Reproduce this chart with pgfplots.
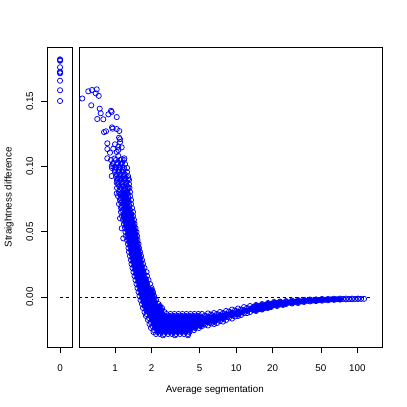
\documentclass[border=0pt]{standalone}
\usepackage{fontspec}
\setmainfont{Liberation Sans}
\usepackage{pgfplots}
\pgfplotsset{compat=1.18}

\pgfplotsset{
  panel/.style={
    scale only axis, anchor=south west, height=300bp,
    ymin=-0.0385, ymax=0.1912,
    axis line style={line width=0.8bp},
    tick style={line width=0.8bp, black},
    tick align=outside, major tick length=6bp,
    xtick pos=left, ytick pos=left,
    xminorticks=false, yminorticks=false,
    ticklabel style={font=\fontsize{9.8bp}{11bp}\selectfont, inner sep=0pt},
    xticklabel shift=11.5bp, yticklabel shift=8bp,
  },
  pts/.style={only marks, mark=o, mark size=2.6bp, blue, line width=0.75bp},
  core/.style={only marks, mark=*, mark size=2bp, blue, mark options={draw=none, fill=blue}},
  zero/.style={black, line width=0.75bp, dash pattern=on 3bp off 3bp},
}

\begin{document}
\begin{tikzpicture}
\path[use as bounding box] (0,0) rectangle (407bp,407bp);

% narrow panel: the x = 0 group
\begin{axis}[panel, at={(47.4bp,59.7bp)}, width=25.3bp,
  xmin=-1, xmax=1, xtick={0}, xticklabels={0},
  ytick={0,0.05,0.1,0.15}, yticklabels={0.00,0.05,0.10,0.15},
  yticklabel style={rotate=90, anchor=south},
]
\addplot[zero, forget plot] coordinates {(0,0) (1,0)};
\addplot[pts] coordinates {
(0,0.1820)(0,0.1809)(0,0.1814)(0,0.1759)(0,0.1725)(0,0.1713)(0,0.1719)
(0,0.1656)(0,0.1583)(0,0.1501)
};
\end{axis}

% main panel, log x
\begin{axis}[panel, at={(79.3bp,59.7bp)}, width=303bp,
  xmode=log, xmin=0.5074, xmax=160.5,
  xtick={1,2,5,10,20,50,100}, xticklabels={1,2,5,10,20,50,100},
  ytick=\empty,
]
\addplot[zero, forget plot] coordinates {(0.5074,0) (127,0)};
% points deep inside the crowded part of the cloud
\addplot[core, forget plot] coordinates {
(1.164,0.0804)(1.256,0.0804)(1.142,0.0773)(1.232,0.0773)(1.186,0.0743)(1.280,0.0743)
(1.164,0.0712)(1.256,0.0712)(1.209,0.0681)(1.304,0.0681)(1.209,0.0651)(1.304,0.0651)
(1.186,0.0789)(1.197,0.0758)(1.209,0.0727)(1.220,0.0697)(1.232,0.0666)
(1.232,0.0620)(1.330,0.0620)(1.256,0.0590)(1.355,0.0590)(1.280,0.0559)(1.381,0.0559)
(1.304,0.0528)(1.408,0.0528)(1.317,0.0498)(1.421,0.0498)(1.330,0.0467)(1.435,0.0467)
(1.355,0.0436)(1.462,0.0436)(1.381,0.0406)(1.490,0.0406)(1.394,0.0375)(1.490,0.0375)
(1.408,0.0345)(1.519,0.0345)(1.435,0.0314)(1.548,0.0314)(1.462,0.0283)(1.578,0.0283)
(1.462,0.0253)(1.578,0.0253)(1.490,0.0222)(1.608,0.0222)
(1.519,0.0191)(1.623,0.0191)(1.718,0.0191)(1.563,0.0161)(1.702,0.0161)
(1.578,0.0130)(1.702,0.0130)(1.802,0.0130)(1.608,0.0100)(1.735,0.0100)(1.837,0.0100)
(1.639,0.0069)(1.768,0.0069)(1.872,0.0069)(1.670,0.0038)(1.802,0.0038)(1.926,0.0038)
(1.702,0.0008)(1.837,0.0008)(1.963,0.0008)(1.735,-0.0023)(1.872,-0.0023)(2.020,-0.0023)
(1.802,-0.0054)(1.944,-0.0054)(2.098,-0.0054)
(1.837,-0.0084)(1.982,-0.0084)(2.138,-0.0084)(2.307,-0.0084)
(1.175,0.0635)(1.268,0.0635)(1.368,0.0635)(1.186,0.0605)(1.280,0.0605)(1.381,0.0605)
(1.209,0.0574)(1.304,0.0574)(1.408,0.0574)(1.232,0.0544)(1.330,0.0544)(1.435,0.0544)
(1.256,0.0513)(1.355,0.0513)(1.462,0.0513)(1.273,0.0482)(1.374,0.0482)(1.482,0.0482)
(1.285,0.0452)(1.387,0.0452)(1.496,0.0452)(1.304,0.0421)(1.408,0.0421)(1.519,0.0421)
(1.330,0.0391)(1.435,0.0391)(1.548,0.0391)(1.347,0.0360)(1.454,0.0360)(1.569,0.0360)
(1.368,0.0329)(1.476,0.0329)(1.593,0.0329)(1.387,0.0299)(1.496,0.0299)(1.614,0.0299)
(1.408,0.0268)(1.519,0.0268)(1.639,0.0268)(1.435,0.0237)(1.548,0.0237)(1.670,0.0237)
(1.462,0.0207)(1.578,0.0207)(1.702,0.0207)(1.490,0.0176)(1.608,0.0176)(1.735,0.0176)
(1.519,0.0146)(1.639,0.0146)(1.768,0.0146)(1.548,0.0115)(1.670,0.0115)(1.802,0.0115)
(1.578,0.0084)(1.702,0.0084)(1.837,0.0084)
(1.608,0.0054)(1.735,0.0054)(1.872,0.0054)(2.020,0.0054)
(1.639,0.0023)(1.768,0.0023)(1.908,0.0023)(2.058,0.0023)
(1.670,-0.0008)(1.802,-0.0008)(1.944,-0.0008)(2.098,-0.0008)
(1.709,-0.0038)(1.844,-0.0038)(1.989,-0.0038)(2.146,-0.0038)
(1.751,-0.0069)(1.890,-0.0069)(2.039,-0.0069)(2.200,-0.0069)(2.351,-0.0069)
(1.809,-0.0100)(1.933,-0.0100)(2.085,-0.0100)(2.251,-0.0100)(2.428,-0.0100)
(1.890,-0.0115)(2.039,-0.0115)(2.200,-0.0115)(2.373,-0.0115)
(1.963,-0.0130)(2.118,-0.0130)(2.285,-0.0130)(2.466,-0.0130)
(1.944,-0.0145)(2.098,-0.0145)(2.264,-0.0145)(2.442,-0.0145)(2.635,-0.0145)
(2.843,-0.0145)(3.067,-0.0145)(3.309,-0.0145)(3.570,-0.0145)(3.852,-0.0145)(4.156,-0.0145)
(4.484,-0.0145)(4.838,-0.0145)
(2.058,-0.0161)(2.221,-0.0161)(2.396,-0.0161)(2.585,-0.0161)(2.789,-0.0161)
(3.010,-0.0161)(3.247,-0.0161)(3.503,-0.0161)(3.780,-0.0161)(4.078,-0.0161)(4.400,-0.0161)
(4.747,-0.0161)(5.120,-0.0161)
(2.020,-0.0176)(2.179,-0.0176)(2.351,-0.0176)(2.537,-0.0176)(2.737,-0.0176)
(2.953,-0.0176)(3.186,-0.0176)(3.437,-0.0176)(3.708,-0.0176)(4.001,-0.0176)(4.317,-0.0176)
(4.657,-0.0176)(5.025,-0.0176)
(2.126,-0.0191)(2.294,-0.0191)(2.475,-0.0191)(2.670,-0.0191)(2.881,-0.0191)
(3.108,-0.0191)(3.354,-0.0191)(3.619,-0.0191)(3.904,-0.0191)(4.213,-0.0191)(4.545,-0.0191)
(4.904,-0.0191)
(2.078,-0.0207)(2.242,-0.0207)(2.419,-0.0207)(2.610,-0.0207)(2.816,-0.0207)
(3.038,-0.0207)(3.278,-0.0207)(3.537,-0.0207)(3.816,-0.0207)(4.117,-0.0207)(4.442,-0.0207)
(4.793,-0.0207)(5.170,-0.0207)
(2.187,-0.0222)(2.360,-0.0222)(2.546,-0.0222)(2.747,-0.0222)(2.964,-0.0222)
(3.198,-0.0222)(3.450,-0.0222)(3.722,-0.0222)(4.016,-0.0222)(4.333,-0.0222)(4.675,-0.0222)
(5.040,-0.0222)
(2.138,-0.0237)(2.307,-0.0237)(2.489,-0.0237)(2.685,-0.0237)(2.897,-0.0237)
(3.126,-0.0237)(3.372,-0.0237)(3.638,-0.0237)(3.925,-0.0237)(4.235,-0.0237)(4.571,-0.0237)
(2.264,-0.0253)(2.442,-0.0253)(2.635,-0.0253)(2.843,-0.0253)(3.067,-0.0253)
(3.309,-0.0253)(3.570,-0.0253)(3.852,-0.0253)(4.156,-0.0253)
(2.242,-0.0268)(2.419,-0.0268)(2.610,-0.0268)(2.816,-0.0268)(3.038,-0.0268)
(3.278,-0.0268)(3.537,-0.0268)(3.816,-0.0268)
(5.222,-0.0153)(5.222,-0.0176)(5.222,-0.0199)(5.528,-0.0165)(5.528,-0.0188)
(5.853,-0.0149)(5.853,-0.0172)(5.853,-0.0195)(6.197,-0.0157)(6.197,-0.0180)
(6.560,-0.0145)(6.560,-0.0168)(6.560,-0.0191)(6.945,-0.0153)(6.945,-0.0176)
(7.353,-0.0138)(7.353,-0.0161)(7.784,-0.0145)(7.784,-0.0168)
(8.241,-0.0130)(8.241,-0.0153)(8.724,-0.0134)(9.235,-0.0119)(9.235,-0.0142)
(9.775,-0.0126)(10.35,-0.0111)(10.35,-0.0134)(10.96,-0.0119)(11.60,-0.0100)
(12.28,-0.0107)(13.00,-0.0092)
(13.76,-0.0077)(13.76,-0.0100)(14.57,-0.0061)(14.57,-0.0084)(14.57,-0.0107)
(15.42,-0.0069)(15.42,-0.0092)(16.33,-0.0054)(16.33,-0.0077)(16.33,-0.0096)
(17.29,-0.0061)(17.29,-0.0084)(18.30,-0.0046)(18.30,-0.0069)(18.30,-0.0084)
(19.37,-0.0054)(19.37,-0.0077)(20.51,-0.0038)(20.51,-0.0061)(21.71,-0.0046)(21.71,-0.0069)
(22.98,-0.0034)(22.98,-0.0057)(24.33,-0.0046)(24.33,-0.0061)(25.76,-0.0031)(25.76,-0.0054)
(27.27,-0.0042)(28.87,-0.0027)(28.87,-0.0050)(30.56,-0.0038)(32.35,-0.0023)(32.35,-0.0046)
(34.25,-0.0034)(36.26,-0.0021)(36.26,-0.0038)(38.39,-0.0029)(40.64,-0.0019)(40.64,-0.0034)
(43.02,-0.0027)(45.55,-0.0018)(45.55,-0.0031)(48.22,-0.0023)(51.05,-0.0015)(51.05,-0.0028)
(54.04,-0.0021)(57.21,-0.0015)(57.21,-0.0025)(60.57,-0.0018)(64.12,-0.0013)(64.12,-0.0022)
(67.88,-0.0017)(71.86,-0.0012)(71.86,-0.0020)
};
\addplot[pts] coordinates {
(0.537,0.1520)(0.602,0.1575)(0.646,0.1585)(0.706,0.1590)(0.693,0.1560)(0.734,0.1540)
(0.637,0.1468)(0.748,0.1442)(0.762,0.1407)(0.714,0.1363)(0.801,0.1361)(0.927,0.1426)
(0.939,0.1417)(0.881,0.1399)(1.033,0.1378)(0.812,0.1263)(0.843,0.1269)(0.945,0.1299)
(0.957,0.1289)(1.033,0.1286)(1.085,0.1271)(1.100,0.1208)(1.080,0.1220)(0.864,0.1177)
(0.864,0.1133)(0.909,0.1105)(0.968,0.1136)(1.000,0.1169)(1.065,0.1151)(1.136,0.1146)
(1.100,0.1187)(1.065,0.1126)(0.864,0.1062)(0.939,0.1003)(1.065,0.1080)(1.136,0.1054)
(1.193,0.1062)(1.033,0.1110)(0.990,0.1060)(0.939,0.0926)(1.033,0.0875)(1.085,0.0909)
(1.209,0.0909)(1.288,0.0909)(1.170,0.0845)(1.288,0.0840)(1.033,0.0794)(1.136,0.0768)
(1.209,0.0781)(1.100,0.0603)(1.136,0.0526)(1.170,0.0449)
(0.927,0.1049)(1.019,0.1049)(1.100,0.1049)(1.186,0.1049)
(0.963,0.1018)(1.039,0.1018)(1.121,0.1018)(1.209,0.1018)
(0.945,0.0988)(1.019,0.0988)(1.100,0.0988)(1.186,0.0988)(1.256,0.0988)
(1.000,0.0957)(1.079,0.0957)(1.164,0.0957)(1.256,0.0957)
(1.019,0.0926)(1.100,0.0926)(1.186,0.0926)(1.280,0.0926)
(1.039,0.0896)(1.121,0.0896)(1.209,0.0896)(1.304,0.0896)
(1.059,0.0865)(1.142,0.0865)(1.232,0.0865)(1.304,0.0865)
(1.039,0.0835)(1.121,0.0835)(1.209,0.0835)(1.317,0.0835)
(1.079,0.0804)(1.164,0.0804)(1.256,0.0804)(1.330,0.0804)
(1.059,0.0773)(1.142,0.0773)(1.232,0.0773)(1.330,0.0773)
(1.100,0.0743)(1.186,0.0743)(1.280,0.0743)(1.355,0.0743)
(1.079,0.0712)(1.164,0.0712)(1.256,0.0712)(1.355,0.0712)
(1.121,0.0681)(1.209,0.0681)(1.304,0.0681)(1.381,0.0681)
(1.121,0.0651)(1.209,0.0651)(1.304,0.0651)(1.408,0.0651)
(0.963,0.1026)(1.059,0.1026)(1.142,0.1026)
(0.991,0.0995)(1.069,0.0995)(1.153,0.0995)
(1.000,0.0972)(1.079,0.0972)(1.164,0.0972)
(1.029,0.0942)(1.110,0.0942)(1.197,0.0942)
(1.049,0.0911)(1.131,0.0911)(1.220,0.0911)
(1.069,0.0881)(1.153,0.0881)(1.244,0.0881)
(1.079,0.0850)(1.164,0.0850)(1.256,0.0850)
(1.089,0.0819)(1.175,0.0819)(1.268,0.0819)
(1.100,0.0789)(1.186,0.0789)(1.280,0.0789)
(1.110,0.0758)(1.197,0.0758)(1.292,0.0758)
(1.121,0.0727)(1.209,0.0727)(1.304,0.0727)
(1.131,0.0697)(1.220,0.0697)(1.317,0.0697)
(1.142,0.0666)(1.232,0.0666)(1.330,0.0666)
(1.142,0.0620)(1.232,0.0620)(1.330,0.0620)(1.408,0.0620)
(1.164,0.0590)(1.256,0.0590)(1.355,0.0590)(1.435,0.0590)
(1.186,0.0559)(1.280,0.0559)(1.381,0.0559)(1.448,0.0559)
(1.209,0.0528)(1.304,0.0528)(1.408,0.0528)(1.476,0.0528)
(1.220,0.0498)(1.317,0.0498)(1.421,0.0498)(1.504,0.0498)
(1.232,0.0467)(1.330,0.0467)(1.435,0.0467)(1.519,0.0467)
(1.256,0.0436)(1.355,0.0436)(1.462,0.0436)(1.533,0.0436)
(1.280,0.0406)(1.381,0.0406)(1.490,0.0406)(1.563,0.0406)
(1.292,0.0375)(1.394,0.0375)(1.490,0.0375)(1.578,0.0375)
(1.304,0.0345)(1.408,0.0345)(1.519,0.0345)(1.608,0.0345)
(1.330,0.0314)(1.435,0.0314)(1.548,0.0314)(1.639,0.0314)
(1.355,0.0283)(1.462,0.0283)(1.578,0.0283)(1.670,0.0283)
(1.368,0.0253)(1.462,0.0253)(1.578,0.0253)(1.702,0.0253)
(1.394,0.0222)(1.490,0.0222)(1.608,0.0222)(1.751,0.0222)
(1.421,0.0191)(1.519,0.0191)(1.623,0.0191)(1.718,0.0191)(1.820,0.0191)
(1.448,0.0161)(1.563,0.0161)(1.702,0.0161)(1.837,0.0161)
(1.476,0.0130)(1.578,0.0130)(1.702,0.0130)(1.802,0.0130)(1.890,0.0130)
(1.504,0.0100)(1.608,0.0100)(1.735,0.0100)(1.837,0.0100)(1.944,0.0100)
(1.533,0.0069)(1.639,0.0069)(1.768,0.0069)(1.872,0.0069)(2.001,0.0069)
(1.563,0.0038)(1.670,0.0038)(1.802,0.0038)(1.926,0.0038)(2.058,0.0038)
(1.593,0.0008)(1.702,0.0008)(1.837,0.0008)(1.963,0.0008)(2.098,0.0008)
(1.623,-0.0023)(1.735,-0.0023)(1.872,-0.0023)(2.020,-0.0023)(2.179,-0.0023)
(1.670,-0.0054)(1.802,-0.0054)(1.944,-0.0054)(2.098,-0.0054)(2.285,-0.0054)
(1.702,-0.0084)(1.837,-0.0084)(1.982,-0.0084)(2.138,-0.0084)(2.307,-0.0084)(2.442,-0.0084)
(1.175,0.0635)(1.268,0.0635)(1.368,0.0635)
(1.186,0.0605)(1.280,0.0605)(1.381,0.0605)
(1.209,0.0574)(1.304,0.0574)(1.408,0.0574)
(1.232,0.0544)(1.330,0.0544)(1.435,0.0544)
(1.256,0.0513)(1.355,0.0513)(1.462,0.0513)
(1.273,0.0482)(1.374,0.0482)(1.482,0.0482)
(1.285,0.0452)(1.387,0.0452)(1.496,0.0452)
(1.304,0.0421)(1.408,0.0421)(1.519,0.0421)
(1.330,0.0391)(1.435,0.0391)(1.548,0.0391)
(1.347,0.0360)(1.454,0.0360)(1.569,0.0360)
(1.368,0.0329)(1.476,0.0329)(1.593,0.0329)
(1.387,0.0299)(1.496,0.0299)(1.614,0.0299)
(1.408,0.0268)(1.519,0.0268)(1.639,0.0268)
(1.435,0.0237)(1.548,0.0237)(1.670,0.0237)
(1.462,0.0207)(1.578,0.0207)(1.702,0.0207)
(1.490,0.0176)(1.608,0.0176)(1.735,0.0176)
(1.519,0.0146)(1.639,0.0146)(1.768,0.0146)
(1.548,0.0115)(1.670,0.0115)(1.802,0.0115)
(1.578,0.0084)(1.702,0.0084)(1.837,0.0084)
(1.608,0.0054)(1.735,0.0054)(1.872,0.0054)(2.020,0.0054)
(1.639,0.0023)(1.768,0.0023)(1.908,0.0023)(2.058,0.0023)
(1.670,-0.0008)(1.802,-0.0008)(1.944,-0.0008)(2.098,-0.0008)
(1.709,-0.0038)(1.844,-0.0038)(1.989,-0.0038)(2.146,-0.0038)
(1.751,-0.0069)(1.890,-0.0069)(2.039,-0.0069)(2.200,-0.0069)(2.351,-0.0069)
(1.809,-0.0100)(1.933,-0.0100)(2.085,-0.0100)(2.251,-0.0100)(2.428,-0.0100)
(1.751,-0.0115)(1.890,-0.0115)(2.039,-0.0115)(2.200,-0.0115)(2.373,-0.0115)(2.561,-0.0115)
(1.819,-0.0130)(1.963,-0.0130)(2.118,-0.0130)(2.285,-0.0130)(2.466,-0.0130)(2.660,-0.0130)
(2.870,-0.0130)(3.096,-0.0130)(3.340,-0.0130)(3.604,-0.0130)(3.888,-0.0130)(4.195,-0.0130)
(4.526,-0.0130)(4.883,-0.0130)
(1.802,-0.0145)(1.944,-0.0145)(2.098,-0.0145)(2.264,-0.0145)(2.442,-0.0145)(2.635,-0.0145)
(2.843,-0.0145)(3.067,-0.0145)(3.309,-0.0145)(3.570,-0.0145)(3.852,-0.0145)(4.156,-0.0145)
(4.484,-0.0145)(4.838,-0.0145)
(1.908,-0.0161)(2.058,-0.0161)(2.221,-0.0161)(2.396,-0.0161)(2.585,-0.0161)(2.789,-0.0161)
(3.010,-0.0161)(3.247,-0.0161)(3.503,-0.0161)(3.780,-0.0161)(4.078,-0.0161)(4.400,-0.0161)
(4.747,-0.0161)(5.120,-0.0161)
(1.872,-0.0176)(2.020,-0.0176)(2.179,-0.0176)(2.351,-0.0176)(2.537,-0.0176)(2.737,-0.0176)
(2.953,-0.0176)(3.186,-0.0176)(3.437,-0.0176)(3.708,-0.0176)(4.001,-0.0176)(4.317,-0.0176)
(4.657,-0.0176)(5.025,-0.0176)
(1.970,-0.0191)(2.126,-0.0191)(2.294,-0.0191)(2.475,-0.0191)(2.670,-0.0191)(2.881,-0.0191)
(3.108,-0.0191)(3.354,-0.0191)(3.619,-0.0191)(3.904,-0.0191)(4.213,-0.0191)(4.545,-0.0191)
(4.904,-0.0191)
(1.926,-0.0207)(2.078,-0.0207)(2.242,-0.0207)(2.419,-0.0207)(2.610,-0.0207)(2.816,-0.0207)
(3.038,-0.0207)(3.278,-0.0207)(3.537,-0.0207)(3.816,-0.0207)(4.117,-0.0207)(4.442,-0.0207)
(4.793,-0.0207)(5.170,-0.0207)
(2.028,-0.0222)(2.187,-0.0222)(2.360,-0.0222)(2.546,-0.0222)(2.747,-0.0222)(2.964,-0.0222)
(3.198,-0.0222)(3.450,-0.0222)(3.722,-0.0222)(4.016,-0.0222)(4.333,-0.0222)(4.675,-0.0222)
(5.040,-0.0222)
(1.982,-0.0237)(2.138,-0.0237)(2.307,-0.0237)(2.489,-0.0237)(2.685,-0.0237)(2.897,-0.0237)
(3.126,-0.0237)(3.372,-0.0237)(3.638,-0.0237)(3.925,-0.0237)(4.235,-0.0237)(4.571,-0.0237)
(4.931,-0.0237)
(2.098,-0.0253)(2.264,-0.0253)(2.442,-0.0253)(2.635,-0.0253)(2.843,-0.0253)(3.067,-0.0253)
(3.309,-0.0253)(3.570,-0.0253)(3.852,-0.0253)(4.156,-0.0253)(4.484,-0.0253)
(2.078,-0.0268)(2.242,-0.0268)(2.419,-0.0268)(2.610,-0.0268)(2.816,-0.0268)(3.038,-0.0268)
(3.278,-0.0268)(3.537,-0.0268)(3.816,-0.0268)(4.117,-0.0268)
(2.179,-0.0283)(2.351,-0.0283)(2.537,-0.0283)(2.737,-0.0283)(2.953,-0.0283)(3.186,-0.0283)
(3.437,-0.0283)(3.708,-0.0283)(4.001,-0.0283)
(2.489,-0.0293)(3.126,-0.0293)(4.001,-0.0293)
(5.222,-0.0130)(5.222,-0.0153)(5.222,-0.0176)(5.222,-0.0199)(5.222,-0.0222)
(5.528,-0.0142)(5.528,-0.0165)(5.528,-0.0188)(5.528,-0.0211)
(5.853,-0.0126)(5.853,-0.0149)(5.853,-0.0172)(5.853,-0.0195)(5.853,-0.0218)
(6.197,-0.0134)(6.197,-0.0157)(6.197,-0.0180)(6.197,-0.0203)
(6.560,-0.0123)(6.560,-0.0145)(6.560,-0.0168)(6.560,-0.0191)(6.560,-0.0207)
(6.945,-0.0130)(6.945,-0.0153)(6.945,-0.0176)(6.945,-0.0199)
(7.353,-0.0115)(7.353,-0.0138)(7.353,-0.0161)(7.353,-0.0184)
(7.784,-0.0123)(7.784,-0.0145)(7.784,-0.0168)(7.784,-0.0188)
(8.241,-0.0107)(8.241,-0.0130)(8.241,-0.0153)(8.241,-0.0176)
(8.724,-0.0111)(8.724,-0.0134)(8.724,-0.0157)
(9.235,-0.0096)(9.235,-0.0119)(9.235,-0.0142)(9.235,-0.0165)
(9.775,-0.0103)(9.775,-0.0126)(9.775,-0.0149)
(10.35,-0.0088)(10.35,-0.0111)(10.35,-0.0134)(10.35,-0.0145)
(10.96,-0.0096)(10.96,-0.0119)(10.96,-0.0138)
(11.60,-0.0077)(11.60,-0.0100)(11.60,-0.0123)
(12.28,-0.0084)(12.28,-0.0107)(12.28,-0.0123)
(13.00,-0.0069)(13.00,-0.0092)(13.00,-0.0115)
(13.76,-0.0077)(13.76,-0.0100)
(14.57,-0.0061)(14.57,-0.0084)(14.57,-0.0107)
(15.42,-0.0069)(15.42,-0.0092)
(16.33,-0.0054)(16.33,-0.0077)(16.33,-0.0096)
(17.29,-0.0061)(17.29,-0.0084)
(18.30,-0.0046)(18.30,-0.0069)(18.30,-0.0084)
(19.37,-0.0054)(19.37,-0.0077)
(20.51,-0.0038)(20.51,-0.0061)
(21.71,-0.0046)(21.71,-0.0069)
(22.98,-0.0034)(22.98,-0.0057)
(24.33,-0.0046)(24.33,-0.0061)
(25.76,-0.0031)(25.76,-0.0054)
(27.27,-0.0042)
(28.87,-0.0027)(28.87,-0.0050)
(30.56,-0.0038)
(32.35,-0.0023)(32.35,-0.0046)
(34.25,-0.0034)
(36.26,-0.0021)(36.26,-0.0038)
(38.39,-0.0029)
(40.64,-0.0019)(40.64,-0.0034)
(43.02,-0.0027)
(45.55,-0.0018)(45.55,-0.0031)
(48.22,-0.0023)
(51.05,-0.0015)(51.05,-0.0028)
(54.04,-0.0021)
(57.21,-0.0015)(57.21,-0.0025)
(60.57,-0.0018)
(64.12,-0.0013)(64.12,-0.0022)
(67.88,-0.0017)
(71.86,-0.0012)(71.86,-0.0020)
(76.07,-0.0015)
(80.54,-0.0012)(80.54,-0.0018)
(85.26,-0.0015)
(90.26,-0.0012)(90.26,-0.0017)
(95.55,-0.0015)
(101.2,-0.0012)(101.2,-0.0015)
(107.1,-0.0014)
(113.4,-0.0014)
};
\end{axis}

\node[font=\fontsize{9.8bp}{11bp}\selectfont, anchor=base] at (214.8bp,15bp) {Average segmentation};
\node[font=\fontsize{9.8bp}{11bp}\selectfont, rotate=90, anchor=base] at (11.5bp,209.7bp) {Straightness difference};
\end{tikzpicture}
\end{document}
